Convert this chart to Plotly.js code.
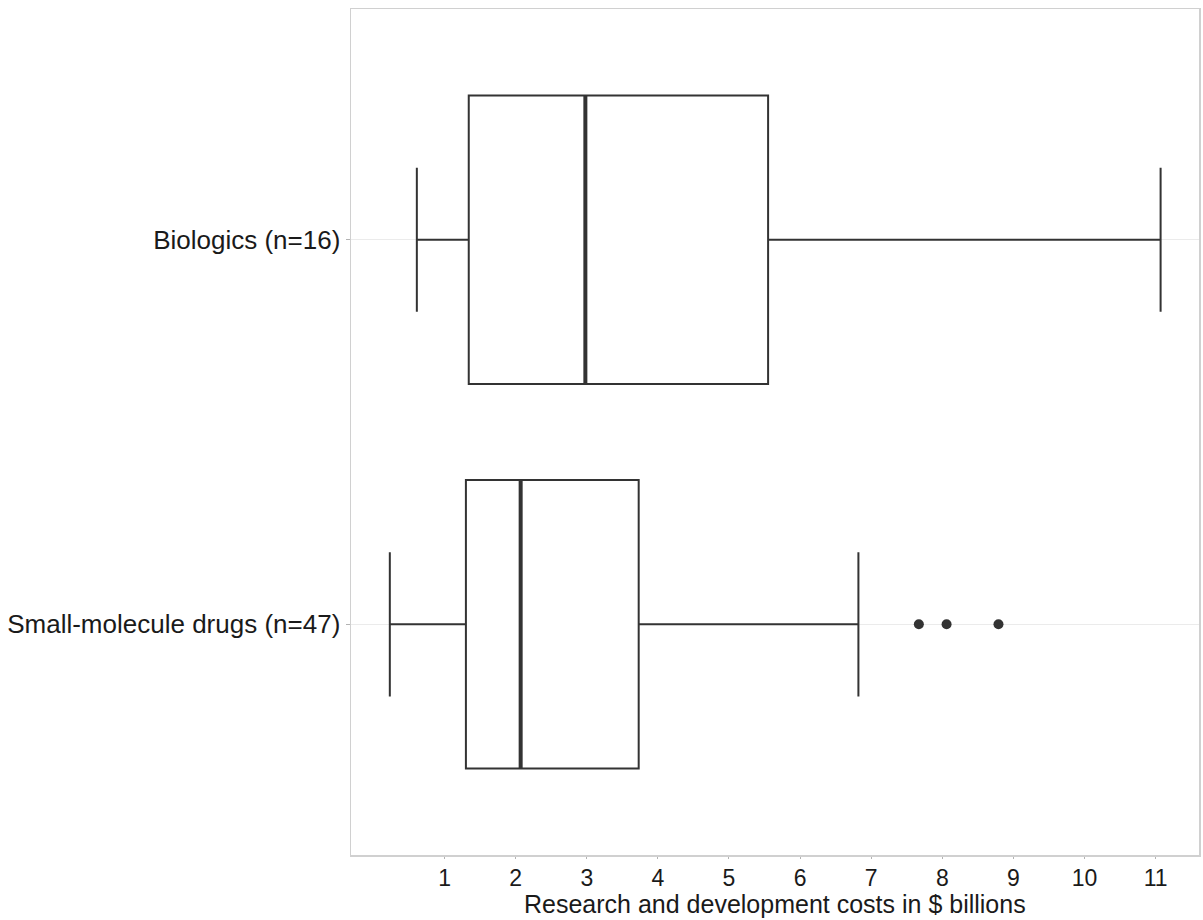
<!DOCTYPE html>
<html>
<head>
<meta charset="utf-8">
<script src="https://cdn.plot.ly/plotly-3.0.1.min.js"></script>
<style>html,body{margin:0;padding:0;background:#fff;}#chart{width:1203px;height:920px;}</style>
</head>
<body>
<div id="chart"></div>
<script>
// Categories (bottom to top)
const categories = ['Small-molecule drugs (n=47)', 'Biologics (n=16)'];
// Box statistics ($ billions)
const lowerFence = [0.23, 0.61];
const q1 = [1.30, 1.34];
const median = [2.07, 2.98];
const q3 = [3.73, 5.55];
const upperFence = [6.82, 11.07];
// Outliers (small-molecule drugs)
const outlierValues = [7.67, 8.06, 8.79];
const outlierCategory = ['Small-molecule drugs (n=47)', 'Small-molecule drugs (n=47)', 'Small-molecule drugs (n=47)'];
// x tick values
const xTicks = [1, 2, 3, 4, 5, 6, 7, 8, 9, 10, 11];
const xTitle = 'Research and development costs in $ billions';

const dark = '#333333';
const boxWidth = 0.75;

const traces = [
  {
    type: 'box',
    orientation: 'h',
    y: categories,
    q1: q1,
    median: median,
    q3: q3,
    lowerfence: lowerFence,
    upperfence: upperFence,
    width: boxWidth,
    whiskerwidth: 0.5,
    fillcolor: '#ffffff',
    line: {color: dark, width: 2},
    boxpoints: false,
    hoverinfo: 'x',
    showlegend: false
  },
  {
    type: 'scatter',
    mode: 'markers',
    x: outlierValues,
    y: outlierCategory,
    marker: {color: dark, size: 10},
    showlegend: false
  }
];

// thicker median lines, positioned from the data arrays
const shapes = median.map((m, i) => ({
  type: 'line', xref: 'x', yref: 'y',
  x0: m, x1: m, y0: i - boxWidth / 2, y1: i + boxWidth / 2,
  line: {color: dark, width: 4}
}));

const fam = 'Liberation Sans, Arial, sans-serif';
const txt = '#1a1a1a';

const layout = {
  width: 1203, height: 920,
  margin: {l: 351, r: 4, t: 9, b: 65},
  paper_bgcolor: '#ffffff', plot_bgcolor: '#ffffff',
  font: {family: fam, size: 26, color: txt},
  showlegend: false,
  shapes: shapes,
  annotations: [{
    text: xTitle, xref: 'paper', yref: 'paper', x: 0.5, y: 0,
    xanchor: 'center', yanchor: 'bottom', yshift: -64, borderpad: 0, showarrow: false,
    font: {family: fam, size: 25, color: txt}
  }],
  xaxis: {
    range: [-0.316, 11.61],
    tickvals: xTicks,
    ticktext: xTicks.map(String),
    ticks: 'outside', ticklen: 2, tickcolor: '#b3b3b3', tickwidth: 1,
    showgrid: false, zeroline: false,
    showline: true, mirror: true, linecolor: '#d0d0d0', linewidth: 1.5,
    tickfont: {family: fam, size: 23, color: txt}
  },
  yaxis: {
    type: 'category',
    categoryorder: 'array', categoryarray: categories,
    range: [-0.6, 1.6],
    ticks: 'outside', ticklen: 4, tickcolor: '#b3b3b3',
    showgrid: true, gridcolor: '#ebebeb', gridwidth: 1.2,
    zeroline: false,
    showline: true, mirror: true, linecolor: '#d0d0d0', linewidth: 1.5,
    tickfont: {family: fam, size: 26, color: txt}
  }
};

Plotly.newPlot('chart', traces, layout, {displayModeBar: false, staticPlot: true});
</script>
</body>
</html>
